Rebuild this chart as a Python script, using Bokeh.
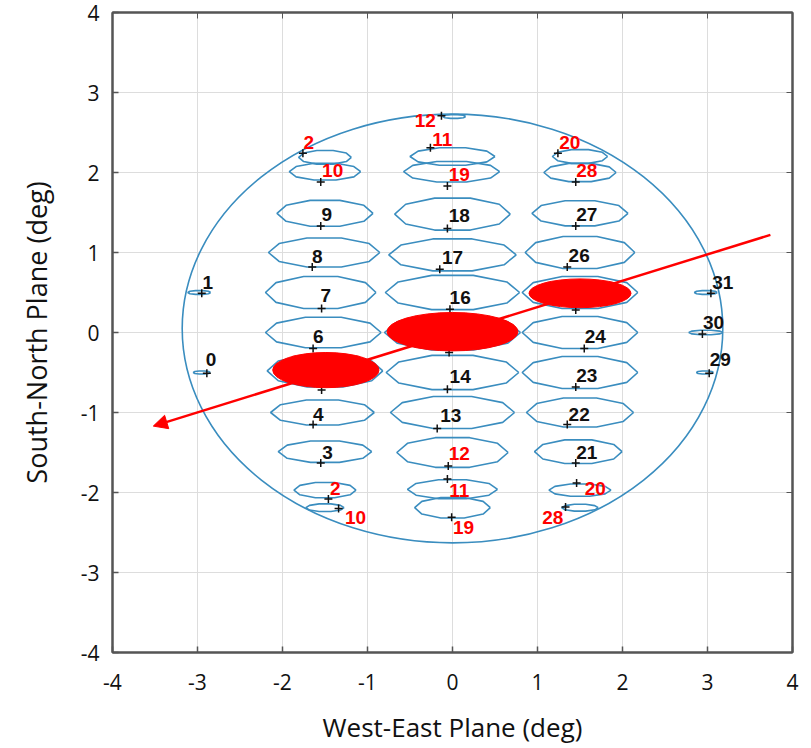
import numpy as np
from bokeh.plotting import figure
from bokeh.models import (ColumnDataSource, Arrow, NormalHead, LinearAxis,
                          FixedTicker, LabelSet)
from bokeh.core.properties import value
from bokeh.embed import file_html
from bokeh.resources import INLINE

# ---------------- data ----------------
ticks = [-4, -3, -2, -1, 0, 1, 2, 3, 4]
tick_labels = ["-4", "-3", "-2", "-1", "0", "1", "2", "3", "4"]

# beam contours (centre x, centre y, width, height) in degrees
beam_name = ["0", "1", "31", "30", "29",
             "2", "10", "9", "8", "7", "6", "5", "4", "3", "2", "10",
             "12", "11", "19", "18", "17", "16", "15", "14", "13", "12", "11", "19",
             "20", "28", "27", "26", "25", "24", "23", "22", "21", "20", "28"]
beam_cx = [-2.95, -2.98, 2.98, 2.98, 2.97,
           -1.50, -1.50, -1.50, -1.51, -1.55, -1.52, -1.50, -1.53, -1.50, -1.50, -1.50,
           0.02, 0.00, -0.01, 0.00, 0.00, 0.00, 0.00, 0.00, 0.00, 0.00, 0.00, 0.00,
           1.50, 1.50, 1.50, 1.50, 1.50, 1.50, 1.50, 1.50, 1.48, 1.50, 1.50]
beam_cy = [-0.50, 0.50, 0.50, 0.00, -0.50,
           2.19, 2.01, 1.49, 1.00, 0.50, 0.00, -0.48, -1.00, -1.49, -1.97, -2.19,
           2.70, 2.20, 2.01, 1.48, 0.97, 0.50, 0.00, -0.50, -1.00, -1.50, -1.96, -2.19,
           2.20, 2.00, 1.49, 1.00, 0.50, 0.00, -0.50, -1.00, -1.49, -1.97, -2.19]
beam_w = [0.20, 0.27, 0.27, 0.40, 0.20,
          0.62, 0.84, 1.13, 1.31, 1.30, 1.36, 1.36, 1.22, 1.10, 0.73, 0.45,
          0.27, 1.00, 1.13, 1.36, 1.50, 1.58, 1.60, 1.56, 1.46, 1.31, 1.06, 0.89,
          0.65, 0.85, 1.13, 1.29, 1.36, 1.36, 1.36, 1.26, 1.03, 0.73, 0.43]
beam_h = [0.04, 0.05, 0.05, 0.06, 0.04,
          0.18, 0.22, 0.34, 0.38, 0.42, 0.40, 0.42, 0.33, 0.28, 0.20, 0.10,
          0.05, 0.23, 0.27, 0.42, 0.42, 0.45, 0.46, 0.45, 0.42, 0.39, 0.25, 0.27,
          0.18, 0.24, 0.33, 0.42, 0.42, 0.42, 0.42, 0.38, 0.31, 0.16, 0.09]

# beam boresight markers
mark_x = [-2.89, -2.95, 3.04, 2.94, 3.02,
          -1.76, -1.55, -1.55, -1.65, -1.54, -1.64, -1.54, -1.64, -1.55, -1.46, -1.34,
          -0.13, -0.26, -0.06, -0.06, -0.15, -0.03, -0.04, -0.06, -0.18, -0.05, -0.06, -0.01,
          1.24, 1.45, 1.45, 1.35, 1.45, 1.55, 1.45, 1.35, 1.45, 1.46, 1.33]
mark_y = [-0.51, 0.49, 0.49, -0.02, -0.51,
          2.24, 1.88, 1.33, 0.82, 0.30, -0.20, -0.72, -1.15, -1.63, -2.08, -2.20,
          2.71, 2.31, 1.83, 1.30, 0.79, 0.29, -0.25, -0.71, -1.20, -1.67, -1.83, -2.31,
          2.24, 1.88, 1.33, 0.82, 0.28, -0.20, -0.68, -1.15, -1.63, -1.88, -2.18]

# beam number labels
label_text = ["0", "1", "31", "30", "29",
              "2", "10", "9", "8", "7", "6", "4", "3", "2", "10",
              "12", "11", "19", "18", "17", "16", "14", "13", "12", "11", "19",
              "20", "28", "27", "26", "24", "23", "22", "21", "20", "28"]
label_x = [-2.84, -2.88, 3.18, 3.07, 3.15,
           -1.69, -1.41, -1.48, -1.59, -1.49, -1.58, -1.58, -1.47, -1.38, -1.14,
           -0.32, -0.12, 0.08, 0.08, 0.00, 0.09, 0.09, -0.02, 0.08, 0.08, 0.13,
           1.38, 1.58, 1.58, 1.49, 1.68, 1.58, 1.49, 1.58, 1.68, 1.18]
label_y = [-0.34, 0.62, 0.62, 0.13, -0.34,
           2.37, 2.02, 1.47, 0.95, 0.46, -0.05, -1.02, -1.50, -1.95, -2.31,
           2.65, 2.41, 1.98, 1.46, 0.94, 0.44, -0.55, -1.04, -1.51, -1.98, -2.44,
           2.38, 2.02, 1.47, 0.96, -0.05, -0.54, -1.02, -1.50, -1.95, -2.31]
label_red = ["2", "10", "11", "12", "19", "20", "28"]

# Earth disc outline
disc_cx, disc_cy, disc_w, disc_h = [0.0], [0.05], [6.36], [5.36]

# highlighted (red) beams
red_cx = [-1.49, 0.00, 1.50]
red_cy = [-0.47, 0.01, 0.49]
red_w = [1.25, 1.54, 1.20]
red_h = [0.44, 0.48, 0.36]

# direction arrow (start -> end)
arrow_x = [3.74, -3.52]
arrow_y = [1.22, -1.17]

# ---------------- styling ----------------
BLUE = "#3a8dbf"
RED = "#ff0000"
AXIS_FONT = "Open Sans"
overrides = {t: s for t, s in zip(ticks, tick_labels)}

p = figure(width=811, height=748, x_range=(-4, 4), y_range=(-4, 4),
           output_backend="svg", toolbar_location=None,
           min_border_left=112, min_border_right=19, min_border_top=12,
           min_border_bottom=96)
p.background_fill_color = "white"
p.border_fill_color = "white"
p.outline_line_color = "#555555"
p.outline_line_width = 2

for ax in (p.xaxis[0], p.yaxis[0]):
    ax.ticker = FixedTicker(ticks=ticks)
    ax.major_label_overrides = overrides
    ax.axis_line_color = "#555555"
    ax.axis_line_width = 2
    ax.major_tick_in = 6
    ax.major_tick_out = 0
    ax.major_tick_line_color = "#555555"
    ax.major_tick_line_width = 1.5
    ax.minor_tick_line_color = None
    ax.major_label_text_font = AXIS_FONT
    ax.major_label_text_font_size = "21px"
    ax.major_label_text_color = "#111111"
    ax.axis_label_text_font = AXIS_FONT
    ax.axis_label_text_font_style = "normal"
    ax.axis_label_text_color = "#111111"
    ax.axis_label_text_font_size = "26px"

p.xaxis[0].axis_label = "West-East Plane (deg)"
p.xaxis[0].major_label_standoff = 21
p.xaxis[0].axis_label_standoff = 16
p.yaxis[0].axis_label = "South-North Plane (deg)"
p.yaxis[0].axis_label_text_font_size = "27px"
p.yaxis[0].major_label_standoff = 13
p.yaxis[0].axis_label_standoff = 23

for loc in ("above", "right"):
    ax = LinearAxis(ticker=FixedTicker(ticks=ticks))
    ax.major_label_text_color = None
    ax.major_label_text_font_size = "1px"
    ax.major_label_standoff = 0
    ax.axis_line_color = "#555555"
    ax.axis_line_width = 2
    ax.major_tick_in = 6
    ax.major_tick_out = 0
    ax.major_tick_line_color = "#555555"
    ax.minor_tick_line_color = None
    p.add_layout(ax, loc)

p.xgrid.ticker = FixedTicker(ticks=ticks)
p.ygrid.ticker = FixedTicker(ticks=ticks)
p.grid.grid_line_color = "#dddddd"
p.grid.grid_line_width = 1

# beam contours as faceted ellipses (10-sided)
ang = np.arange(0, 361, 36) * np.pi / 180.0
xs = [list(cx + 0.5 * w * np.cos(ang)) for cx, w in zip(beam_cx, beam_w)]
ys = [list(cy + 0.5 * h * np.sin(ang)) for cy, h in zip(beam_cy, beam_h)]
p.multi_line(xs=xs, ys=ys, line_color=BLUE, line_width=1.6)

# earth disc
p.ellipse(x=disc_cx, y=disc_cy, width=disc_w, height=disc_h,
          fill_color=None, line_color=BLUE, line_width=1.6)

# markers
p.scatter(x=mark_x, y=mark_y, marker="cross", size=8, line_color="#111111",
          line_width=1.5)

# labels
lab_src = ColumnDataSource(dict(
    x=label_x, y=label_y, text=label_text,
    color=[RED if (t in label_red) else "#111111" for t in label_text]))
labels = LabelSet(x="x", y="y", text="text", source=lab_src,
                  text_color="color", text_font=value("Liberation Sans"),
                  text_font_style="bold", text_font_size="19px",
                  text_align="center", text_baseline="middle")
p.add_layout(labels)

# red highlighted beams
p.ellipse(x=red_cx, y=red_cy, width=red_w, height=red_h,
          fill_color=RED, line_color=RED)

# arrow
p.add_layout(Arrow(end=NormalHead(size=14, fill_color=RED, line_color=RED),
                   x_start=arrow_x[0], y_start=arrow_y[0],
                   x_end=arrow_x[1], y_end=arrow_y[1],
                   line_color=RED, line_width=2.5))

open("out.html", "w").write(file_html(p, INLINE))
